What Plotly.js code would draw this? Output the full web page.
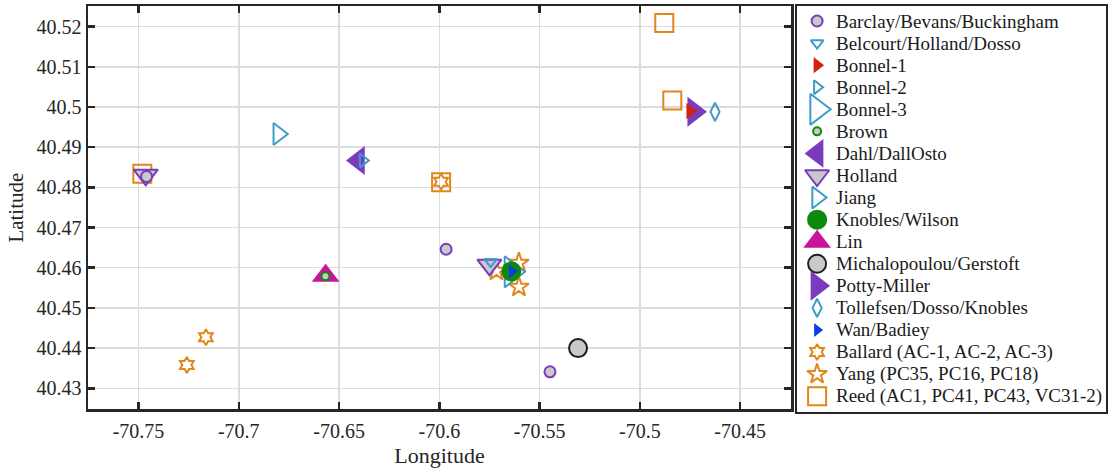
<!DOCTYPE html>
<html>
<head>
<meta charset="utf-8">
<script src="https://cdn.plot.ly/plotly-3.0.1.min.js"></script>
<style>html,body{margin:0;padding:0;background:#fff;}#chart{width:1109px;height:468px;}</style>
</head>
<body>
<div id="chart"></div>
<script>
// ---------- data ----------
const seriesNames = [
  "Barclay/Bevans/Buckingham", "Belcourt/Holland/Dosso", "Bonnel-1", "Bonnel-2", "Bonnel-3",
  "Brown", "Dahl/DallOsto", "Holland", "Jiang", "Knobles/Wilson", "Lin",
  "Michalopoulou/Gerstoft", "Potty-Miller", "Tollefsen/Dosso/Knobles", "Wan/Badiey",
  "Ballard (AC-1, AC-2, AC-3)", "Yang (PC35, PC16, PC18)", "Reed (AC1, PC41, PC43, VC31-2)"
];

const lonBarclay = [-70.7460, -70.5966, -70.5448];
const latBarclay = [40.4827, 40.4646, 40.4341];
const lonBelcourt = [-70.5744];
const latBelcourt = [40.4615];
const lonBonnel1 = [-70.4750];
const latBonnel1 = [40.4990];
const lonBonnel2 = [-70.6381];
const latBonnel2 = [40.4867];
const lonBonnel3 = [-70.5640];
const latBonnel3 = [40.4590];
const lonBrown = [-70.6568];
const latBrown = [40.4579];
const lonDahl = [-70.6403];
const latDahl = [40.4867];
const lonHolland = [-70.7464, -70.5750];
const latHolland = [40.4831, 40.4607];
const lonJiang = [-70.6803];
const latJiang = [40.4933];
const lonKnobles = [-70.5641];
const latKnobles = [40.4591];
const lonLin = [-70.6567];
const latLin = [40.4580];
const lonMichalopoulou = [-70.5308];
const latMichalopoulou = [40.4400];
const lonPotty = [-70.4730];
const latPotty = [40.4988];
const lonTollefsen = [-70.4625];
const latTollefsen = [40.4988];
const lonWan = [-70.5638];
const latWan = [40.4591];
const lonBallard = [-70.7164, -70.7259, -70.5991];
const latBallard = [40.4427, 40.4358, 40.4814];
const lonYang = [-70.5715, -70.5603, -70.5603];
const latYang = [40.4592, 40.4612, 40.4552];
const lonReed = [-70.7481, -70.5991, -70.4878, -70.4838];
const latReed = [40.4834, 40.4813, 40.5209, 40.5016];

const xTickVals = [-70.75, -70.7, -70.65, -70.6, -70.55, -70.5, -70.45];
const xTickText = ["-70.75", "-70.7", "-70.65", "-70.6", "-70.55", "-70.5", "-70.45"];
const yTickVals = [40.43, 40.44, 40.45, 40.46, 40.47, 40.48, 40.49, 40.5, 40.51, 40.52];
const yTickText = ["40.43", "40.44", "40.45", "40.46", "40.47", "40.48", "40.49", "40.5", "40.51", "40.52"];

// ---------- styles ----------
const PURPLE = "#7a3bbd", LBLUE = "#3d9dc8", RED = "#cf230c", GREEN = "#0d8a0d",
      MAGENTA = "#c9139c", GRAY = "#c9c9c9", BLACK = "#1e1e1e", BLUE = "#0b3ee6", ORANGE = "#e2861b";

const seriesData = [
  [lonBarclay, latBarclay], [lonBelcourt, latBelcourt], [lonBonnel1, latBonnel1],
  [lonBonnel2, latBonnel2], [lonBonnel3, latBonnel3], [lonBrown, latBrown],
  [lonDahl, latDahl], [lonHolland, latHolland], [lonJiang, latJiang],
  [lonKnobles, latKnobles], [lonLin, latLin], [lonMichalopoulou, latMichalopoulou],
  [lonPotty, latPotty], [lonTollefsen, latTollefsen], [lonWan, latWan],
  [lonBallard, latBallard], [lonYang, latYang], [lonReed, latReed]
];

const markers = [
  {symbol: "circle", size: 11, color: GRAY, line: {color: PURPLE, width: 2}},
  {symbol: "triangle-down-open", size: 11, color: LBLUE, line: {width: 2}},
  {symbol: "triangle-right", size: 14, color: RED, line: {width: 0}},
  {symbol: "triangle-right-open", size: 12, color: LBLUE, line: {width: 2}},
  {symbol: "triangle-right-open", size: 27, color: LBLUE, line: {width: 2}},
  {symbol: "circle", size: 8, color: GRAY, line: {color: GREEN, width: 2}},
  {symbol: "triangle-left", size: 25, color: PURPLE, line: {width: 0}},
  {symbol: "triangle-down", size: 21, color: GRAY, line: {color: PURPLE, width: 2}},
  {symbol: "triangle-right-open", size: 19, color: LBLUE, line: {width: 2}},
  {symbol: "circle", size: 20, color: GREEN, line: {width: 0}},
  {symbol: "triangle-up", size: 24, color: MAGENTA, line: {width: 0}},
  {symbol: "circle", size: 18, color: GRAY, line: {color: BLACK, width: 2}},
  {symbol: "triangle-right", size: 26, color: PURPLE, line: {width: 0}},
  {symbol: "diamond-tall-open", size: 13, color: LBLUE, line: {width: 2}},
  {symbol: "triangle-right", size: 12, color: BLUE, line: {width: 0}},
  {symbol: "hexagram-open", size: 12, color: ORANGE, line: {width: 2}},
  {symbol: "star-open", size: 15, color: ORANGE, line: {width: 2}},
  {symbol: "square-open", size: 18, color: ORANGE, line: {width: 2}}
];

// drawing order on the map (large markers underneath small ones)
const drawOrder = [17, 16, 15, 7, 12, 6, 10, 4, 8, 9, 11, 13, 0, 1, 2, 3, 5, 14];

const traces = [];
drawOrder.forEach(function (i) {
  traces.push({
    type: "scatter", mode: "markers", name: seriesNames[i],
    x: seriesData[i][0], y: seriesData[i][1],
    marker: markers[i], showlegend: false, hoverinfo: "skip",
    xaxis: "x", yaxis: "y"
  });
});

// custom legend (drawn in its own small axes)
const LEG_MARKER_X = 0.065, LEG_TEXT_X = 0.124;
const annotations = [];
seriesNames.forEach(function (name, i) {
  traces.push({
    type: "scatter", mode: "markers", x: [LEG_MARKER_X], y: [i],
    marker: markers[i], showlegend: false, hoverinfo: "skip",
    xaxis: "x2", yaxis: "y2", cliponaxis: false
  });
  annotations.push({
    xref: "x2", yref: "y2", x: LEG_TEXT_X, y: i, text: name, showarrow: false,
    xanchor: "left", yanchor: "middle", borderpad: 0,
    font: {family: "Liberation Serif, Times New Roman, serif", size: 19, color: "#1a1a1a"}
  });
});

const AXC = "#262626";
const layout = {
  width: 1109, height: 468,
  margin: {l: 88, r: 2, t: 6, b: 56, pad: 0},
  paper_bgcolor: "#ffffff", plot_bgcolor: "#ffffff",
  showlegend: false, hovermode: false,
  font: {family: "Liberation Serif, Times New Roman, serif", color: AXC},
  xaxis: {
    domain: [0, 0.6899], range: [-70.7752, -70.4246],
    tickvals: xTickVals, ticktext: xTickText,
    ticks: "inside", ticklen: 7, tickwidth: 2.5, tickcolor: AXC,
    showline: true, linewidth: 2.5, linecolor: AXC, mirror: "allticks",
    showgrid: true, gridcolor: "#dcdcdc", gridwidth: 1.5, zeroline: false,
    tickfont: {size: 20, color: AXC}, ticklabelstandoff: 2,
    title: {text: "Longitude", font: {size: 22, color: AXC}, standoff: 7},
    anchor: "y"
  },
  yaxis: {
    domain: [0.0067, 1], range: [40.42477, 40.52515],
    tickvals: yTickVals, ticktext: yTickText,
    ticks: "inside", ticklen: 7, tickwidth: 2.5, tickcolor: AXC,
    showline: true, linewidth: 2.5, linecolor: AXC, mirror: "allticks",
    showgrid: true, gridcolor: "#dcdcdc", gridwidth: 1.5, zeroline: false,
    tickfont: {size: 20, color: AXC},
    title: {text: "Latitude", font: {size: 21, color: AXC}, standoff: 7},
    anchor: "x"
  },
  xaxis2: {
    domain: [0.6958, 0.999], range: [0, 1], anchor: "y2",
    showgrid: false, zeroline: false, showticklabels: false, ticks: "",
    showline: true, mirror: true, linewidth: 2, linecolor: AXC, fixedrange: true
  },
  yaxis2: {
    domain: [0, 1], range: [17.716, -0.68], anchor: "x2",
    showgrid: false, zeroline: false, showticklabels: false, ticks: "",
    showline: true, mirror: true, linewidth: 2, linecolor: AXC, fixedrange: true
  },
  annotations: annotations
};

Plotly.newPlot("chart", traces, layout, {displayModeBar: false, staticPlot: true});
</script>
</body>
</html>
